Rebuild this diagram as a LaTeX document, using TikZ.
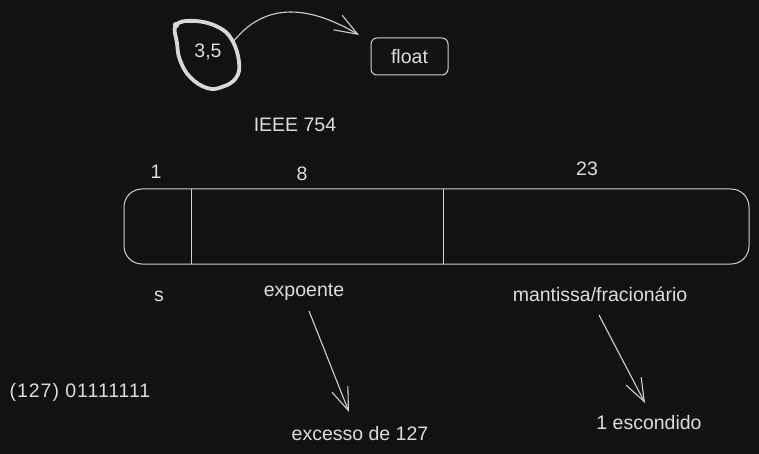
\documentclass[tikz,border=0pt]{standalone}
\usepackage{fontspec}
\setmainfont{Liberation Sans}
\usetikzlibrary{arrows.meta}
\definecolor{bg}{HTML}{121212}
\definecolor{ink}{HTML}{DDDDDD}
\definecolor{linec}{HTML}{D0D0D0}
\definecolor{penc}{HTML}{D8D8D8}
\begin{document}
\begin{tikzpicture}[x=1pt,y=-1pt,
  lbl/.style={text=ink,inner sep=0pt,font=\fontsize{19.5}{23}\selectfont},
  conn/.style={draw=linec,line width=1.1pt,-{Straight Barb[length=23pt,width=17pt,line width=1.1pt]}},
  thin/.style={draw=linec,line width=1pt}]
\fill[bg] (0,0) rectangle (759,454);
\useasboundingbox (0,0) rectangle (759,454);
% hand-drawn circle
\draw[draw=penc,line width=3.8pt,line cap=round,line join=round]
  plot[smooth cycle,tension=0.7] coordinates{(176,25)(195,21)(218,27)(232,40)(239,62)(236,78)(222,87)(207,88)(190,77)(180,60)(177,43)};
\fill[penc] (176,25) circle (3.2);
\node[lbl] (v) at (208,52) {3,5};
\node[lbl,draw=linec,line width=1pt,rounded corners=6pt,minimum width=77pt,minimum height=37pt] (float) at (409.5,56.5) {float};
\coordinate (c0) at (233,42);
\coordinate (c1) at (359,35);
\draw[conn] (c0) .. controls (270,-5) and (320,12) .. (c1);
\node[lbl] (ieee) at (295,125) {IEEE 754};
% bar
\node[thin,rounded corners=18pt,minimum width=625pt,minimum height=75pt,inner sep=0pt] (bar) at (436.5,226.5) {};
\draw[thin] (191,189) -- (191,264);
\draw[thin] (443,189) -- (443,264);
\node[lbl] (n1) at (156,172) {1};
\node[lbl] (n8) at (302,174) {8};
\node[lbl] (n23) at (587,169) {23};
\node[lbl] (s) at (159,296) {s};
\node[lbl] (exp) at (304,292) {expoente};
\node[lbl] (man) at (600,294) {mantissa/fracionário};
\node[lbl] (exc) at (360,434) {excesso de 127};
\node[lbl] (esc) at (649,423) {1 escondido};
\node[lbl,font=\fontsize{19.5}{23}\selectfont\addfontfeature{LetterSpace=5}] (bin) at (80,392) {(127) 01111111};
\coordinate (e0) at (309,311);
\coordinate (e1) at (349,412);
\draw[conn] (e0) -- (e1);
\coordinate (m0) at (599,315);
\coordinate (m1) at (645,403);
\draw[conn] (m0) -- (m1);
\end{tikzpicture}
\end{document}
